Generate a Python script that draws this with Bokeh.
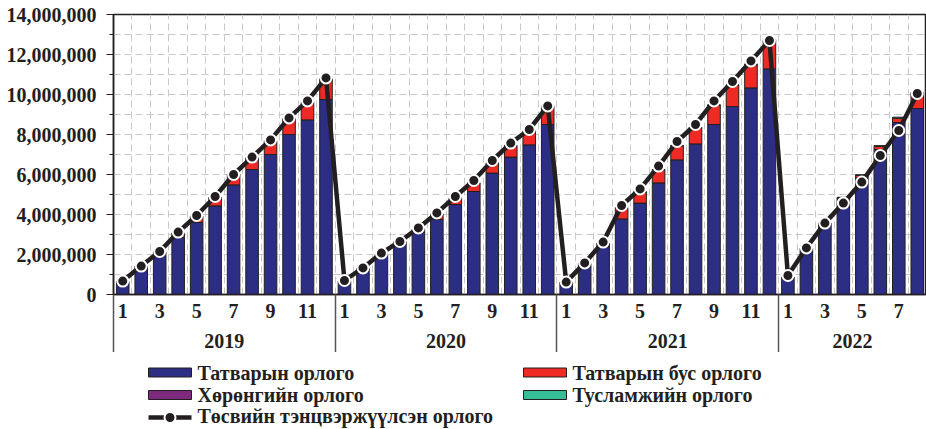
from bokeh.plotting import figure
from bokeh.layouts import column
from bokeh.models import (ColumnDataSource, Range1d, LinearAxis, FixedTicker, Grid,
                          NumeralTickFormatter)
from bokeh.core.properties import value
from bokeh.embed import file_html
from bokeh.resources import INLINE

# ---------------- data ----------------
years = ["2019", "2020", "2021", "2022"]
months_per_year = [12, 12, 12, 8]
months = list(range(1, 13)) * 3 + list(range(1, 9))

tax = [600000, 1300000, 2000000, 2850000, 3600000, 4430000, 5480000, 6250000, 7000000, 8000000, 8730000, 9750000,
       620000, 1200000, 1900000, 2500000, 3100000, 3750000, 4500000, 5150000, 6070000, 6870000, 7480000, 8500000,
       550000, 1450000, 2400000, 3780000, 4570000, 5580000, 6730000, 7530000, 8500000, 9400000, 10330000, 11280000,
       800000, 2250000, 3500000, 4750000, 5850000, 7250000, 8600000, 9300000]
non_tax = [50000, 100000, 120000, 200000, 300000, 400000, 500000, 550000, 650000, 750000, 850000, 980000,
           50000, 80000, 100000, 120000, 150000, 250000, 300000, 400000, 480000, 550000, 650000, 870000,
           50000, 100000, 150000, 550000, 550000, 650000, 700000, 800000, 950000, 1050000, 1150000, 1400000,
           50000, 50000, 50000, 80000, 100000, 150000, 200000, 750000]
capital = [5000, 5000, 8000, 10000, 10000, 12000, 15000, 18000, 20000, 22000, 25000, 30000,
           5000, 5000, 8000, 10000, 10000, 12000, 15000, 18000, 20000, 22000, 25000, 30000,
           5000, 5000, 8000, 10000, 10000, 12000, 15000, 18000, 20000, 22000, 25000, 30000,
           5000, 5000, 8000, 10000, 10000, 12000, 15000, 18000]
grants = [5000, 5000, 8000, 10000, 10000, 12000, 15000, 18000, 20000, 22000, 25000, 30000,
          5000, 5000, 8000, 10000, 10000, 12000, 15000, 18000, 20000, 22000, 25000, 30000,
          5000, 5000, 8000, 10000, 10000, 12000, 15000, 18000, 20000, 22000, 25000, 30000,
          5000, 10000, 15000, 20000, 25000, 30000, 50000, 40000]
balanced = [670000, 1420000, 2150000, 3120000, 3950000, 4900000, 6000000, 6870000, 7730000, 8830000, 9680000, 10830000,
            700000, 1330000, 2070000, 2650000, 3330000, 4080000, 4900000, 5700000, 6700000, 7570000, 8250000, 9430000,
            620000, 1580000, 2620000, 4450000, 5280000, 6420000, 7650000, 8500000, 9680000, 10650000, 11680000, 12700000,
            950000, 2330000, 3570000, 4570000, 5620000, 6950000, 8200000, 10050000]

series_names = ["Татварын орлого", "Татварын бус орлого", "Хөрөнгийн орлого", "Тусламжийн орлого"]
line_name = "Төсвийн тэнцвэржүүлсэн орлого"
month_labels = [str(m) if m % 2 == 1 else "" for m in months]

# ---------------- styles ----------------
FONT = "Liberation Serif"
INK = "#231f20"
colors = ["#2b2e83", "#ee2a24", "#7d2a7d", "#36be96"]
W = 926
LEFT = 113
H_MAIN = 352
H_LEG = 77
FS = "20px"

n = len(months)
xs = [i + 0.5 for i in range(n)]
src = ColumnDataSource(dict(x=xs, tax=tax, non_tax=non_tax, capital=capital,
                            grants=grants, balanced=balanced))

p = figure(width=W, height=H_MAIN, output_backend="svg", toolbar_location=None,
           title=None, x_range=Range1d(0, n), y_range=Range1d(0, 14000000),
           x_axis_type=None, min_border_left=LEFT, min_border_right=0,
           min_border_top=14, min_border_bottom=0)
p.background_fill_color = "white"
p.border_fill_color = "white"
p.outline_line_color = INK
p.outline_line_width = 1.5

# grids
p.ygrid.ticker = FixedTicker(ticks=list(range(0, 14000001, 1000000)))
p.ygrid.grid_line_color = "#c8c8c8"
p.ygrid.grid_line_dash = "7 4"
p.ygrid.grid_line_width = 1
vgrid = Grid(dimension=0, ticker=FixedTicker(ticks=list(range(1, n))),
             grid_line_color="#c8c8c8", grid_line_dash="7 4", grid_line_width=1)
p.add_layout(vgrid)

# y axis
ya = p.yaxis[0]
ya.ticker = FixedTicker(ticks=list(range(0, 14000001, 2000000)),
                        minor_ticks=list(range(1000000, 14000000, 2000000)))
ya.formatter = NumeralTickFormatter(format="0,0")
ya.major_label_text_font = FONT
ya.major_label_text_font_style = "bold"
ya.major_label_text_font_size = FS
ya.major_label_text_color = INK
ya.major_label_standoff = 10
ya.major_tick_out = 7
ya.major_tick_in = 0
ya.minor_tick_out = 4
ya.minor_tick_in = 0
ya.axis_line_color = INK
ya.axis_line_width = 1.5
ya.major_tick_line_color = INK
ya.minor_tick_line_color = INK

# bars
stackers = ["tax", "non_tax", "capital", "grants"]
bar_rs = p.vbar_stack(stackers, x="x", width=0.68, source=src, color=colors,
                      line_color=INK, line_width=1)

# line
line_r = p.line("x", "balanced", source=src, line_color=INK, line_width=4.5)
dot_r = p.scatter("x", "balanced", source=src, marker="circle", size=11,
                  fill_color=INK, line_color="white", line_width=2)

# month axis
month_ticks = [xs[i] for i in range(n) if month_labels[i]]
xa_m = LinearAxis(ticker=FixedTicker(ticks=month_ticks),
                  major_label_overrides={xs[i]: month_labels[i] for i in range(n) if month_labels[i]},
                  major_tick_in=0, major_tick_out=0, minor_tick_line_color=None,
                  axis_line_color=INK, axis_line_width=1.5,
                  major_label_standoff=9, major_label_text_font=FONT,
                  major_label_text_font_style="bold", major_label_text_font_size=FS,
                  major_label_text_color=INK)
p.add_layout(xa_m, "below")

# year axis
bounds = [0]
for m in months_per_year:
    bounds.append(bounds[-1] + m)
year_centers = [(bounds[i] + bounds[i + 1]) / 2 for i in range(len(years))]
xa_y = LinearAxis(ticker=FixedTicker(ticks=year_centers),
                  major_label_overrides={year_centers[i]: years[i] for i in range(len(years))},
                  major_tick_line_color=None, minor_tick_line_color=None,
                  axis_line_color=None, major_label_standoff=7,
                  major_label_text_font=FONT, major_label_text_font_style="bold",
                  major_label_text_font_size=FS, major_label_text_color=INK)
p.add_layout(xa_y, "below")

# year separators
sep_ticks = bounds[:-1]
xa_s = LinearAxis(ticker=FixedTicker(ticks=sep_ticks),
                  major_label_overrides={b: "" for b in sep_ticks},
                  major_tick_in=56, major_tick_out=2, major_tick_line_color="#555555",
                  major_tick_line_width=1.5, minor_tick_line_color=None,
                  axis_line_color=None, major_label_standoff=0,
                  major_label_text_font_size="0px")
p.add_layout(xa_s, "below")

# ---------------- legend strip (pixel-unit layout, frame aligned with chart) ----------------
lg = figure(width=W, height=H_LEG, output_backend="svg", toolbar_location=None,
            title=None, x_range=Range1d(0, W - LEFT), y_range=Range1d(H_LEG, 0),
            x_axis_type=None, y_axis_type=None, min_border=0,
            min_border_left=LEFT, min_border_right=0)
lg.outline_line_color = None
lg.xgrid.visible = False
lg.ygrid.visible = False

col_x = [35, 410]           # swatch left edge per column (px from chart's left edge)
row_c = [20, 42.5, 65]      # swatch vertical centres per row
row_base = [20, 42, 63.5]   # text anchor per row
sw_w, sw_h, gap = 43, 9, 6
slots = [(0, 0), (0, 1), (1, 0), (1, 1)]   # (row, col) of each bar series
for k, (r, c) in enumerate(slots):
    lg.quad(left=[col_x[c]], right=[col_x[c] + sw_w],
            top=[row_c[r] - sw_h / 2], bottom=[row_c[r] + sw_h / 2],
            fill_color=colors[k], line_color=INK, line_width=1)
    lg.text(x=[col_x[c] + sw_w + gap], y=[row_base[r]], text=[series_names[k]],
            text_font=value(FONT), text_font_style="bold", text_font_size=FS,
            text_color=INK, text_baseline="alphabetic", text_align="left")
lg.line(x=[col_x[0], col_x[0] + sw_w], y=[row_c[2], row_c[2]], line_color=INK, line_width=4.5)
lg.scatter(x=[col_x[0] + sw_w / 2], y=[row_c[2]], marker="circle", size=11,
           fill_color=INK, line_color="white", line_width=2)
lg.text(x=[col_x[0] + sw_w + gap], y=[row_base[2]], text=[line_name],
        text_font=value(FONT), text_font_style="bold", text_font_size=FS,
        text_color=INK, text_baseline="alphabetic", text_align="left")

open("out.html", "w").write(file_html(column(p, lg), INLINE))
